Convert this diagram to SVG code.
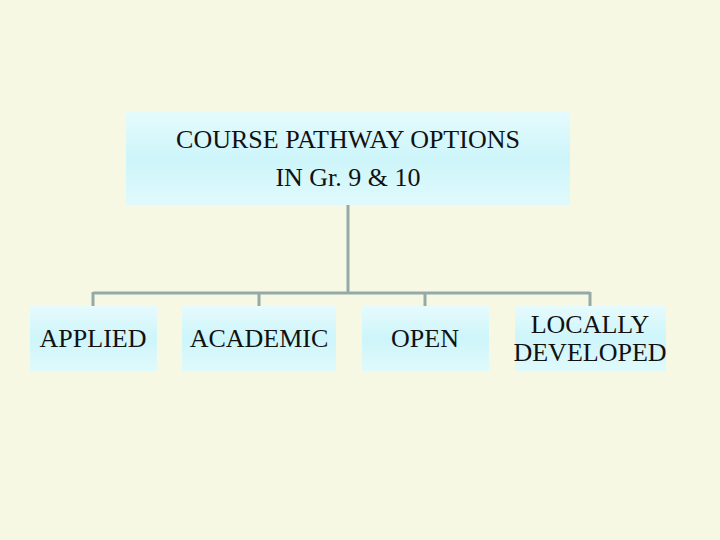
<svg xmlns="http://www.w3.org/2000/svg" width="720" height="540" viewBox="0 0 720 540">
<defs>
<linearGradient id="g" x1="0" y1="0" x2="0" y2="1">
<stop offset="0" stop-color="#e6fbfd"/><stop offset="0.5" stop-color="#cdf5fa"/><stop offset="1" stop-color="#e0fafc"/>
</linearGradient>
<style>
.box{fill:url(#g)}
.t{font-family:'Liberation Serif','Times New Roman',serif;font-size:26px;fill:#111;text-anchor:middle}
.c{stroke:#95a9a8;stroke-width:3;fill:none}
</style>
</defs>
<rect width="720" height="540" fill="#f7f8e4"/>
<g id="connectors">
<path class="c" d="M348 205V293M93 293H590M93 292V306M259 292V306M425 292V306M590 292V306"/>
</g>
<g id="root"><rect class="box" x="126" y="111" width="444" height="94"/>
<text class="t" x="348" y="148">COURSE PATHWAY OPTIONS</text><text class="t" x="348" y="186">IN Gr. 9 &amp; 10</text></g>
<g id="applied"><rect class="box" x="30" y="306" width="127" height="65"/><text class="t" x="93" y="347">APPLIED</text></g>
<g id="academic"><rect class="box" x="182" y="306" width="154" height="65"/><text class="t" x="259" y="347">ACADEMIC</text></g>
<g id="open"><rect class="box" x="362" y="306" width="127" height="65"/><text class="t" x="425" y="347">OPEN</text></g>
<g id="local"><rect class="box" x="515" y="306" width="151" height="65"/><text class="t" x="590" y="333">LOCALLY</text><text class="t" x="590" y="361">DEVELOPED</text></g>
</svg>
